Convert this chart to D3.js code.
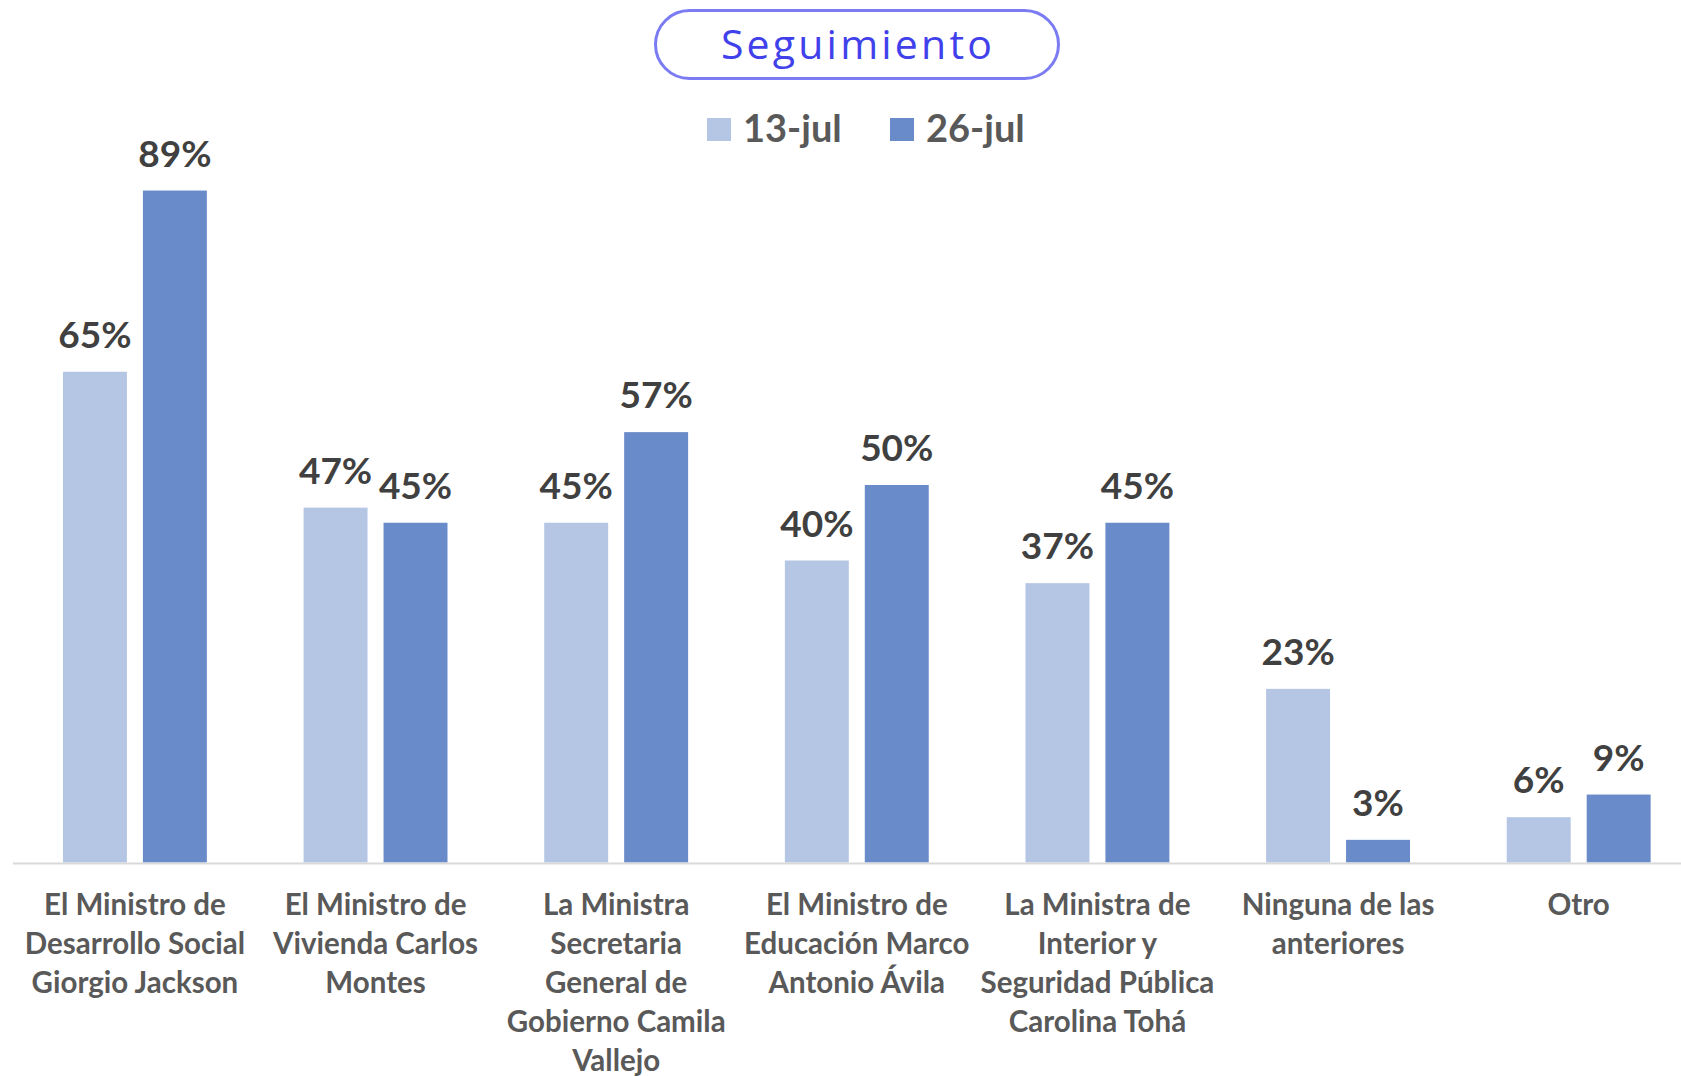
<!DOCTYPE html>
<html lang="es">
<head>
<meta charset="utf-8">
<script src="https://d3js.org/d3.v7.min.js"></script>
<style>
  body { margin: 0; background: #fff; }
  svg { display: block; }
  .lbl { font-family: Lato, "Open Sans", sans-serif; font-weight: 700; }
</style>
<title>Seguimiento</title>
</head>
<body>
<svg id="chart" width="1681" height="1076"></svg>
<script>
// data
var categories = [
  ["El Ministro de", "Desarrollo Social", "Giorgio Jackson"],
  ["El Ministro de", "Vivienda Carlos", "Montes"],
  ["La Ministra", "Secretaria", "General de", "Gobierno Camila", "Vallejo"],
  ["El Ministro de", "Educación Marco", "Antonio Ávila"],
  ["La Ministra de", "Interior y", "Seguridad Pública", "Carolina Tohá"],
  ["Ninguna de las", "anteriores"],
  ["Otro"]
];
var seriesNames = ["13-jul", "26-jul"];
var jul13 = [65, 47, 45, 40, 37, 23, 6];
var jul26 = [89, 45, 57, 50, 45, 3, 9];
var colors = ["#b4c6e4", "#698bc9"];

var svg = d3.select("#chart");

var keys = categories.map(function(c, i) { return "c" + i; });
var rows = keys.map(function(k, i) { return {key: k, lines: categories[i], values: [jul13[i], jul26[i]]}; });

var x0 = d3.scaleBand().domain(keys).range([14.6, 1699]).paddingInner(0.402).paddingOuter(0.201);
var x1 = d3.scaleBand().domain(d3.range(seriesNames.length)).range([0, x0.bandwidth()]).paddingInner(0.2);
var y = d3.scaleLinear().domain([0, 100]).range([862.5, 107.5]);

// title pill
var pill = svg.append("g");
pill.append("rect")
  .attr("x", 655.5).attr("y", 10.5)
  .attr("width", 403).attr("height", 68)
  .attr("rx", 34).attr("ry", 34)
  .attr("fill", "#fff")
  .attr("stroke", "#7b7cf3")
  .attr("stroke-width", 3);
pill.append("text")
  .attr("x", 858).attr("y", 59)
  .attr("text-anchor", "middle")
  .attr("font-family", "'Open Sans', sans-serif")
  .attr("font-size", 41)
  .attr("letter-spacing", 3.2)
  .attr("fill", "#4141ec")
  .text("Seguimiento");

// legend
var legendX = [707, 890];
var legend = svg.selectAll("g.legend")
  .data(seriesNames)
  .enter().append("g")
  .attr("class", "legend")
  .attr("transform", function(d, i) { return "translate(" + legendX[i] + ",118)"; });
legend.append("rect")
  .attr("width", 24).attr("height", 23)
  .attr("fill", function(d, i) { return colors[i]; });
legend.append("text")
  .attr("class", "lbl")
  .attr("x", 36).attr("y", 24)
  .attr("font-size", 38)
  .attr("fill", "#595959")
  .text(function(d) { return d; });

// bars
var group = svg.selectAll("g.group")
  .data(rows)
  .enter().append("g")
  .attr("class", "group")
  .attr("transform", function(d) { return "translate(" + x0(d.key) + ",0)"; });

group.selectAll("rect")
  .data(function(d) { return d.values; })
  .enter().append("rect")
  .attr("x", function(d, i) { return x1(i); })
  .attr("y", function(d) { return y(d); })
  .attr("width", x1.bandwidth())
  .attr("height", function(d) { return y(0) - y(d); })
  .attr("fill", function(d, i) { return colors[i]; });

group.selectAll("text.val")
  .data(function(d) { return d.values; })
  .enter().append("text")
  .attr("class", "val lbl")
  .attr("x", function(d, i) { return x1(i) + x1.bandwidth() / 2; })
  .attr("y", function(d) { return y(d) - 24; })
  .attr("text-anchor", "middle")
  .attr("font-size", 37)
  .attr("fill", "#404040")
  .text(function(d) { return d + "%"; });

// x axis line
svg.append("line")
  .attr("x1", 13).attr("x2", 1681)
  .attr("y1", y(0) + 1).attr("y2", y(0) + 1)
  .attr("stroke", "#d9d9d9")
  .attr("stroke-width", 2);

// category labels
var catText = svg.selectAll("text.cat")
  .data(rows)
  .enter().append("text")
  .attr("class", "cat lbl")
  .attr("x", function(d) { return x0(d.key) + x0.bandwidth() / 2; })
  .attr("y", 915)
  .attr("text-anchor", "middle")
  .attr("font-size", 29.5)
  .attr("fill", "#595959");

catText.selectAll("tspan")
  .data(function(d) { return d.lines; })
  .enter().append("tspan")
  .attr("x", function() { var p = d3.select(this.parentNode).datum(); return x0(p.key) + x0.bandwidth() / 2; })
  .attr("dy", function(d, i) { return i === 0 ? 0 : 39; })
  .text(function(d) { return d; });
</script>
</body>
</html>
